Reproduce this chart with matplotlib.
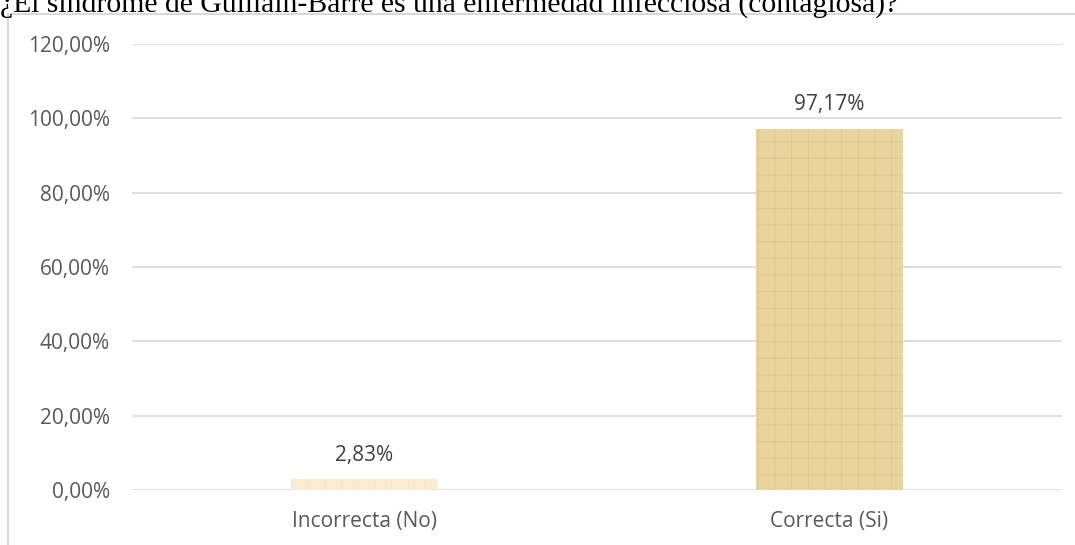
import matplotlib
matplotlib.use("Agg")
import matplotlib.pyplot as plt
from matplotlib.patches import Rectangle
from matplotlib.ticker import FuncFormatter

categories = ["Incorrecta (No)", "Correcta (Si)"]
values = [2.83, 97.17]
bar_colors = ["#FBEBD2", "#E8D49E"]
hatch_colors = ["#F6E3C4", "#DDC68C"]
title = "¿El síndrome de Guillain-Barré es una enfermedad infecciosa (contagiosa)?"

plt.rcParams["hatch.linewidth"] = 0.6

W, H = 1075, 545
fig = plt.figure(figsize=(W / 100, H / 100), dpi=100)
fig.patch.set_facecolor("white")

# outer chart border
fig.patches.append(Rectangle((8 / W, -0.1), 1.2, 1 - 14 / H + 0.1, transform=fig.transFigure,
                             fill=False, edgecolor="#D9D9D9", linewidth=1.5))

ax = fig.add_axes([132 / W, 1 - 490 / H, (1062 - 132) / W, (490 - 44) / H])
x = list(range(len(categories)))
bars = ax.bar(x, values, width=0.316, color=bar_colors, edgecolor=hatch_colors,
              linewidth=0, hatch="+", zorder=3)
ax.set_xlim(-0.5, 1.5)
ax.set_ylim(0, 120)
ax.set_yticks(range(0, 121, 20))
ax.yaxis.set_major_formatter(FuncFormatter(lambda v, p: f"{v:.2f}%".replace(".", ",")))
ax.set_xticks(x)
ax.set_xticklabels(categories)
ax.grid(axis="y", color="#D9D9D9", linewidth=1.2, zorder=0)
for s in ["top", "right", "left", "bottom"]:
    ax.spines[s].set_visible(False)
ax.tick_params(length=0, labelsize=15, labelcolor="#595959")
ax.tick_params(axis="y", pad=16)
ax.tick_params(axis="x", pad=15)
for lbl in ax.get_xticklabels() + ax.get_yticklabels():
    lbl.set_family("Open Sans")

for xi, v in zip(x, values):
    ax.annotate(f"{v:.2f}%".replace(".", ","), (xi, v), xytext=(0, 10), textcoords="offset points",
                ha="center", va="bottom", fontsize=15, color="#404040", family="Open Sans")

fig.text(0.0, 1 - 12 / H, title, ha="left", va="baseline", fontsize=21.3,
         family="Liberation Serif", color="black")

fig.savefig("out.png", dpi=100)
